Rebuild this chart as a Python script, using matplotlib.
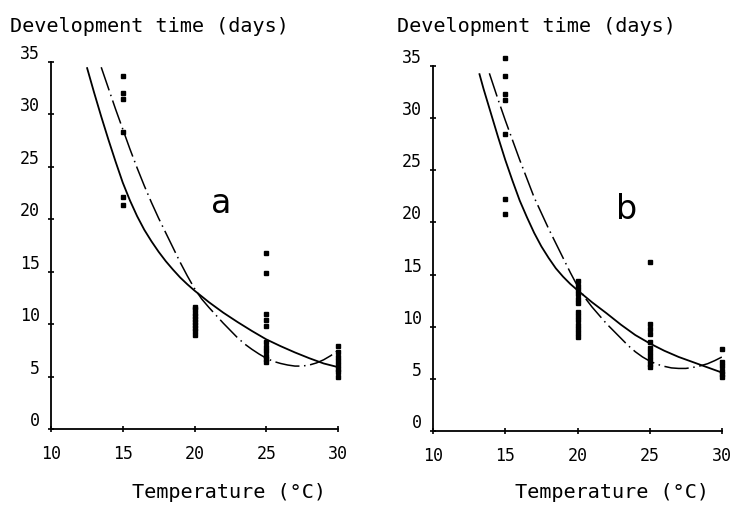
import matplotlib
matplotlib.use("Agg")
import matplotlib.pyplot as plt

# ---------------- data ----------------
x_ticks = [10, 15, 20, 25, 30]
y_ticks = [0, 5, 10, 15, 20, 25, 30, 35]
y_label = "Development time (days)"
x_label = "Temperature (\u00b0C)"
panel_letters = ["a", "b"]

# observed points, panel a
a_temp = [15]*6 + [20]*10 + [25]*11 + [30]*8
a_days = [33.7, 32.0, 31.5, 28.3, 22.1, 21.4,
          9.0, 9.3, 9.6, 9.9, 10.2, 10.5, 10.8, 11.1, 11.4, 11.6,
          16.8, 14.9, 11.0, 10.4, 9.8, 8.3, 7.8, 7.4, 7.0, 6.7, 6.4,
          7.9, 7.3, 6.9, 6.5, 6.1, 5.7, 5.4, 5.0]

# observed points, panel b
b_temp = [15]*7 + [20]*13 + [25]*11 + [30]*6
b_days = [35.8, 34.0, 32.3, 31.7, 28.5, 22.2, 20.8,
          14.4, 13.9, 13.5, 13.1, 12.7, 12.3, 11.4, 11.0, 10.6, 10.2, 9.8, 9.4, 9.0,
          16.2, 10.3, 9.8, 9.3, 8.5, 8.0, 7.6, 7.2, 6.8, 6.4, 6.1,
          7.9, 6.6, 6.2, 5.8, 5.5, 5.2]

# fitted curves, panel a
a_solid_t = [12.5, 13, 13.5, 14, 14.5, 15, 15.5, 16, 16.5, 17, 17.5, 18, 18.5, 19, 19.5,
             20, 21, 22, 23, 24, 25, 26, 27, 28, 29, 30]
a_solid_d = [34.5, 32.1, 29.8, 27.6, 25.5, 23.5, 21.8, 20.3, 19.0, 17.9, 16.9, 16.0, 15.2, 14.45, 13.8,
             13.2, 12.1, 11.1, 10.2, 9.35, 8.55, 7.9, 7.3, 6.75, 6.25, 5.9]
a_dash_t = [13.5, 14, 14.5, 15, 15.5, 16, 16.5, 17, 17.5, 18, 18.5, 19, 19.5, 20, 20.5,
            21, 22, 23, 23.5, 24, 24.5, 25, 25.5, 26, 26.5, 27, 27.5, 28, 28.5, 29, 29.5, 30]
a_dash_d = [34.5, 32.5, 30.5, 28.6, 26.7, 24.9, 23.2, 21.6, 20.1, 18.7, 17.3, 15.9, 14.6, 13.4, 12.4,
            11.6, 10.1, 8.7, 8.1, 7.6, 7.15, 6.75, 6.45, 6.25, 6.1, 6.0, 6.0, 6.1, 6.3, 6.6, 7.0, 7.5]

# fitted curves, panel b
b_solid_t = [13.2, 13.5, 14, 14.5, 15, 15.5, 16, 16.5, 17, 17.5, 18, 18.5, 19, 19.5,
             20, 21, 22, 23, 24, 25, 26, 27, 28, 29, 30]
b_solid_d = [34.3, 32.8, 30.5, 28.2, 26.0, 24.0, 22.1, 20.5, 19.0, 17.7, 16.6, 15.6, 14.8, 14.1,
             13.5, 12.35, 11.3, 10.2, 9.2, 8.4, 7.7, 7.1, 6.6, 6.1, 5.6]
b_dash_t = [13.9, 14.5, 15, 15.5, 16, 16.5, 17, 17.5, 18, 18.5, 19, 19.5, 20, 20.5,
            21, 22, 23, 23.5, 24, 24.5, 25, 25.5, 26, 26.5, 27, 27.5, 28, 28.5, 29, 29.5, 30]
b_dash_d = [34.3, 31.8, 29.8, 27.9, 26.0, 24.2, 22.4, 20.9, 19.4, 18.0, 16.6, 15.2, 13.9, 12.8,
            11.9, 10.3, 8.9, 8.2, 7.6, 7.1, 6.7, 6.4, 6.2, 6.05, 6.0, 6.0, 6.1, 6.25, 6.45, 6.75, 7.1]

# ---------------- figure ----------------
mono = ["DejaVu Sans Mono"]
fig = plt.figure(figsize=(7.35, 5.06), dpi=100)
fig.patch.set_facecolor("white")

panels = [
    dict(rect=[51/735, 1-430/506, 287/735, 367/506], t=a_temp, d=a_days,
         st=a_solid_t, sd=a_solid_d, dt=a_dash_t, dd=a_dash_d,
         letter=panel_letters[0], lpos=(21.85, 21.6),
         ylab_x=10/735, xlab_x=229/735),
    dict(rect=[433/735, 1-432/506, 289/735, 365/506], t=b_temp, d=b_days,
         st=b_solid_t, sd=b_solid_d, dt=b_dash_t, dd=b_dash_d,
         letter=panel_letters[1], lpos=(23.4, 21.3),
         ylab_x=397/735, xlab_x=612/735),
]

for p in panels:
    ax = fig.add_axes(p["rect"])
    ax.set_xlim(10, 30)
    ax.set_ylim(0, 35)
    for s in ["top", "right"]:
        ax.spines[s].set_visible(False)
    for s in ["left", "bottom"]:
        ax.spines[s].set_linewidth(1.3)
    ax.set_xticks(x_ticks)
    ax.set_yticks(y_ticks)
    ax.set_xticklabels([str(v) for v in x_ticks], family=mono, fontsize=12)
    ax.set_yticklabels([str(v) for v in y_ticks], family=mono, fontsize=12)
    for lbl in ax.get_yticklabels():
        lbl.set_va("bottom")
    ax.tick_params(direction="inout", length=4, width=1.2, pad=6)
    ax.tick_params(axis="x", pad=9)

    ax.plot(p["st"], p["sd"], color="black", lw=1.3, solid_capstyle="butt",
            solid_joinstyle="round")
    ax.plot(p["dt"], p["dd"], color="black", lw=1.1,
            linestyle=(0, (16, 3, 1, 3)))
    ax.plot(p["t"], p["d"], linestyle="none", marker="s", markersize=3.4,
            color="black", clip_on=False)

    ax.text(p["lpos"][0], p["lpos"][1], p["letter"], fontsize=24,
            family=["DejaVu Sans"], ha="center", va="center", color="black")

    fig.text(p["ylab_x"], 1-27/506, y_label, family=mono, fontsize=14.5,
             ha="left", va="center")
    fig.text(p["xlab_x"], 1-493/506, x_label, family=mono, fontsize=14.5,
             ha="center", va="center")

fig.savefig("out.png", dpi=100, facecolor="white")
